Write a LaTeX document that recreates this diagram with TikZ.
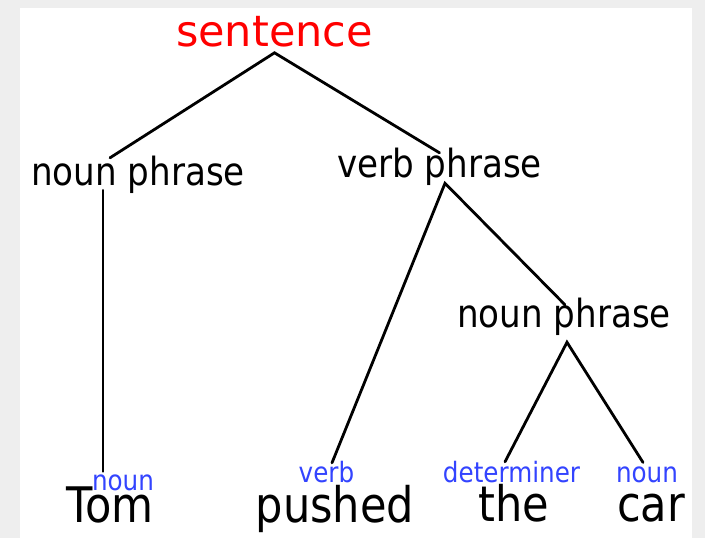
\documentclass[tikz,border=0pt]{standalone}
\usepackage{fontspec}
\setmainfont{DejaVu Sans}
\newfontfamily\narrowfont{DejaVu Sans}[FakeStretch=0.88]
\usepackage{xcolor}
\definecolor{RootRed}{RGB}{255,0,0}
\definecolor{TagBlue}{RGB}{51,68,255}
\definecolor{FrameGray}{RGB}{238,238,238}

\begin{document}
\begin{tikzpicture}[x=1pt, y=-1pt,
          root/.style={inner sep=0pt, anchor=base, text=RootRed, font=\fontsize{43}{48}\selectfont},
          phrase/.style={inner sep=0pt, anchor=base, font=\narrowfont\fontsize{38.8}{44}\selectfont},
          word/.style={inner sep=0pt, anchor=base, font=\narrowfont\fontsize{49}{54}\selectfont},
          tag/.style={inner sep=0pt, anchor=base, text=TagBlue, font=\narrowfont\fontsize{28}{32}\selectfont},
          branch/.style={line width=2.8pt, line cap=round}
        ]
          % frame
          \useasboundingbox (0,0) rectangle (705,538);
          \fill[FrameGray] (0,0) rectangle (705,538);
          \fill[white] (20,8) rectangle (692,538);

          \node (sentence) [root] at (274.5,46) {sentence};
          \node (np1) [phrase] at (138,185) {noun phrase};
          \node (vp) [phrase] at (439.5,177) {verb phrase};
          \node (np2) [phrase] at (564,327) {noun phrase};

          \node (tag1) [tag] at (123,490) {noun};
          \node (tag2) [tag] at (326.5,482) {verb};
          \node (tag3) [tag] at (511.5,482) {determiner};
          \node (tag4) [tag] at (647,482) {noun};

          \node (tom) [word] at (110,522) {Tom};
          \node (pushed) [word] at (335,522) {pushed};
          \node (the) [word] at (514,521) {the};
          \node (car) [word] at (651,521) {car};

          \draw [branch] ([xshift=-28pt,yshift=-2.5pt]np1.north) -- ([yshift=-6pt]sentence.south) -- ([yshift=-5.5pt]vp.north);
          \draw [branch] ([xshift=-35pt,yshift=3pt]np1.south) -- ([xshift=-20pt,yshift=2.7pt]tag1.north);
          \draw [branch] ([xshift=5.5pt,yshift=-2.3pt]tag2.north) -- ([xshift=5.5pt,yshift=2pt]vp.south) -- ([xshift=1pt,yshift=-7.5pt]np2.north);
          \draw [branch] ([xshift=-6.5pt,yshift=-1.3pt]tag3.north) -- ([xshift=3pt,yshift=-7pt]np2.south) -- ([xshift=-4pt,yshift=3.7pt]tag4.north);
        \end{tikzpicture}
\end{document}
